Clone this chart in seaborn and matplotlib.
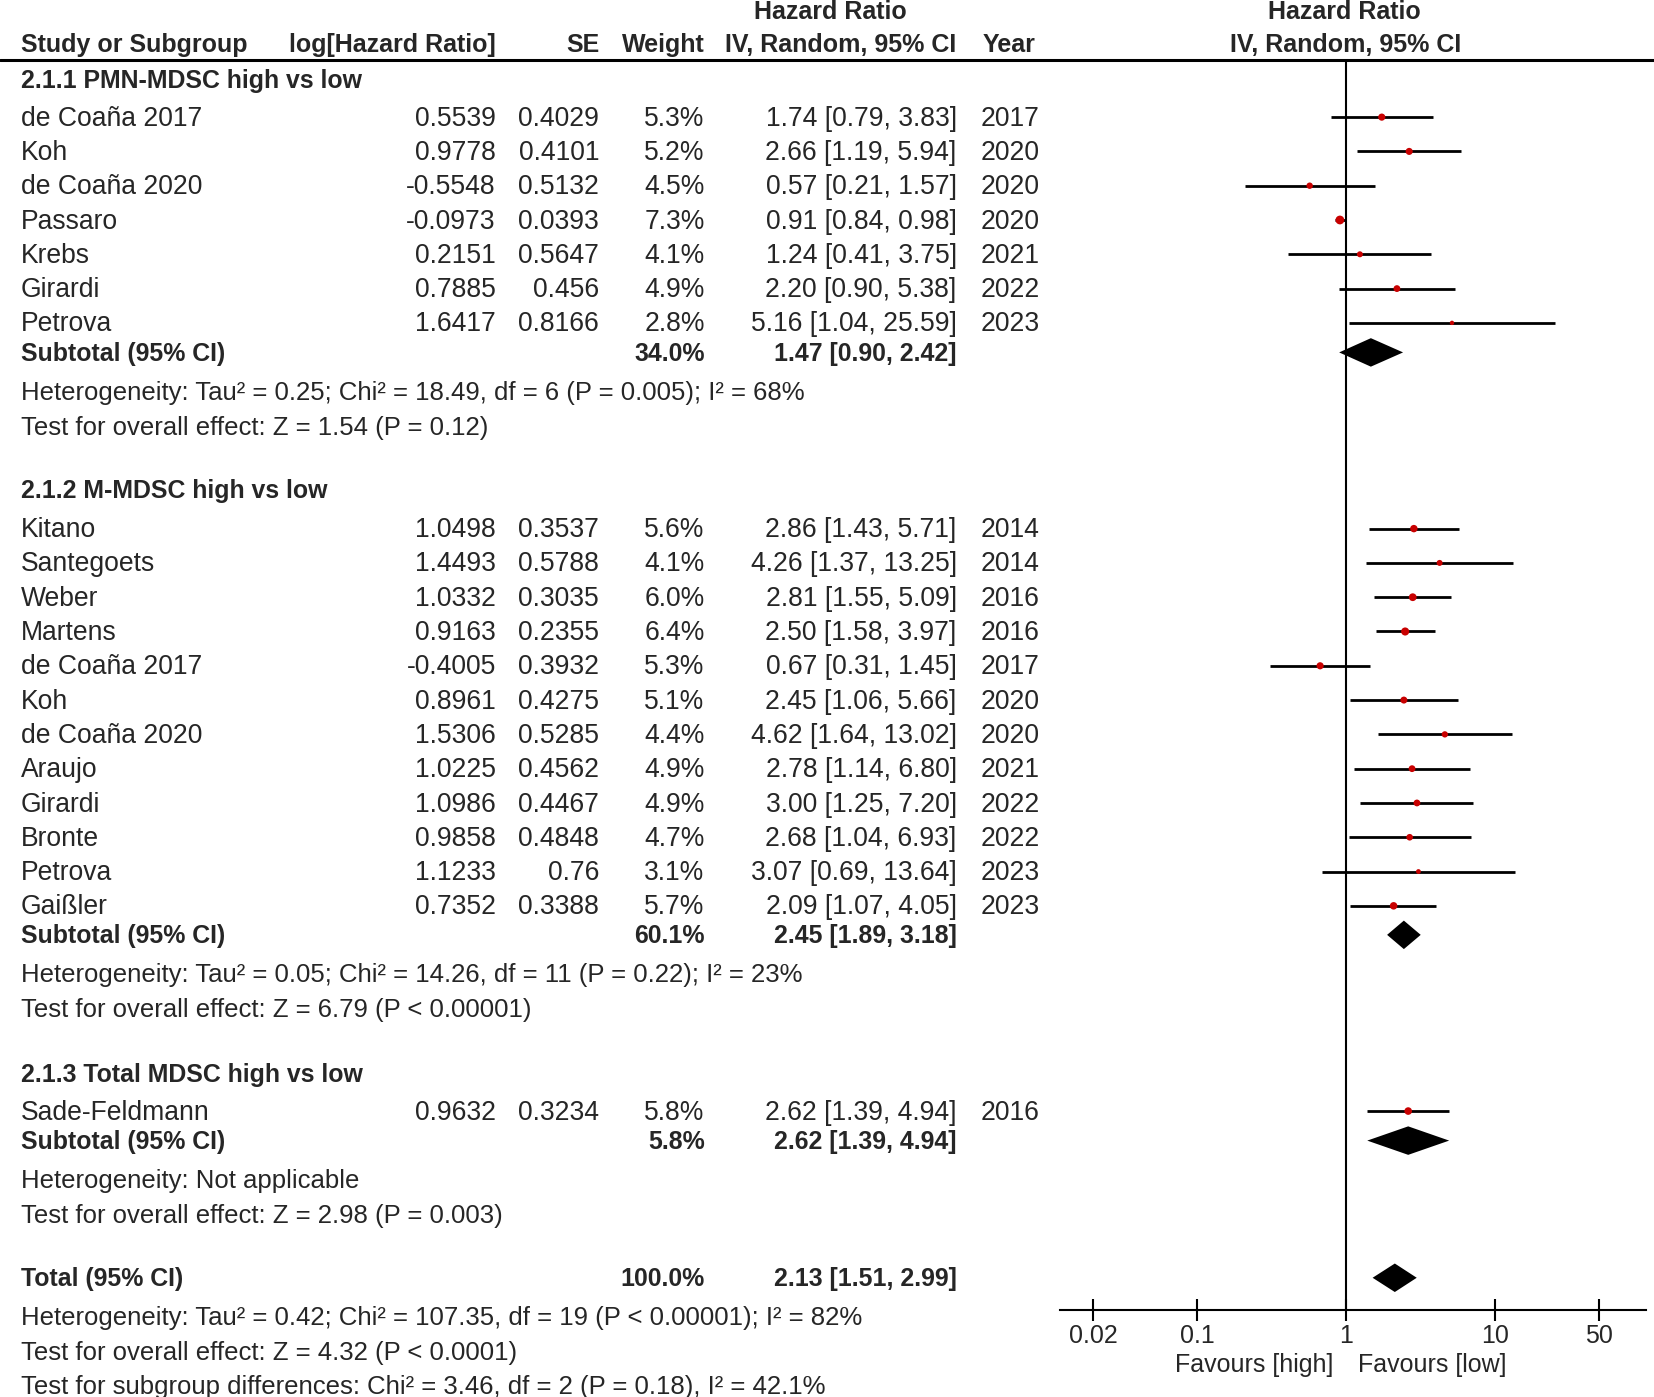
import numpy as np
import pandas as pd
import matplotlib
matplotlib.use("Agg")
import matplotlib.pyplot as plt
import seaborn as sns
from matplotlib import font_manager

# ---------------- data ----------------
g1_names = ["de Coaña 2017", "Koh", "de Coaña 2020", "Passaro", "Krebs", "Girardi", "Petrova"]
g1_loghr = [0.5539, 0.9778, -0.5548, -0.0973, 0.2151, 0.7885, 1.6417]
g1_se = [0.4029, 0.4101, 0.5132, 0.0393, 0.5647, 0.456, 0.8166]
g1_w = [5.3, 5.2, 4.5, 7.3, 4.1, 4.9, 2.8]
g1_hr = [1.74, 2.66, 0.57, 0.91, 1.24, 2.20, 5.16]
g1_lo = [0.79, 1.19, 0.21, 0.84, 0.41, 0.90, 1.04]
g1_hi = [3.83, 5.94, 1.57, 0.98, 3.75, 5.38, 25.59]
g1_year = [2017, 2020, 2020, 2020, 2021, 2022, 2023]

g2_names = ["Kitano", "Santegoets", "Weber", "Martens", "de Coaña 2017", "Koh",
            "de Coaña 2020", "Araujo", "Girardi", "Bronte", "Petrova", "Gaißler"]
g2_loghr = [1.0498, 1.4493, 1.0332, 0.9163, -0.4005, 0.8961, 1.5306, 1.0225, 1.0986, 0.9858, 1.1233, 0.7352]
g2_se = [0.3537, 0.5788, 0.3035, 0.2355, 0.3932, 0.4275, 0.5285, 0.4562, 0.4467, 0.4848, 0.76, 0.3388]
g2_w = [5.6, 4.1, 6.0, 6.4, 5.3, 5.1, 4.4, 4.9, 4.9, 4.7, 3.1, 5.7]
g2_hr = [2.86, 4.26, 2.81, 2.50, 0.67, 2.45, 4.62, 2.78, 3.00, 2.68, 3.07, 2.09]
g2_lo = [1.43, 1.37, 1.55, 1.58, 0.31, 1.06, 1.64, 1.14, 1.25, 1.04, 0.69, 1.07]
g2_hi = [5.71, 13.25, 5.09, 3.97, 1.45, 5.66, 13.02, 6.80, 7.20, 6.93, 13.64, 4.05]
g2_year = [2014, 2014, 2016, 2016, 2017, 2020, 2020, 2021, 2022, 2022, 2023, 2023]

g3_names = ["Sade-Feldmann"]
g3_loghr = [0.9632]
g3_se = [0.3234]
g3_w = [5.8]
g3_hr = [2.62]
g3_lo = [1.39]
g3_hi = [4.94]
g3_year = [2016]

group_titles = ["2.1.1 PMN-MDSC high vs low", "2.1.2 M-MDSC high vs low", "2.1.3 Total MDSC high vs low"]
sub_w = [34.0, 60.1, 5.8]
sub_hr = [1.47, 2.45, 2.62]
sub_lo = [0.90, 1.89, 1.39]
sub_hi = [2.42, 3.18, 4.94]
sub_het = ["Heterogeneity: Tau² = 0.25; Chi² = 18.49, df = 6 (P = 0.005); I² = 68%",
           "Heterogeneity: Tau² = 0.05; Chi² = 14.26, df = 11 (P = 0.22); I² = 23%",
           "Heterogeneity: Not applicable"]
sub_test = ["Test for overall effect: Z = 1.54 (P = 0.12)",
            "Test for overall effect: Z = 6.79 (P < 0.00001)",
            "Test for overall effect: Z = 2.98 (P = 0.003)"]

tot_w = 100.0
tot_hr = 2.13
tot_lo = 1.51
tot_hi = 2.99
tot_lines = ["Heterogeneity: Tau² = 0.42; Chi² = 107.35, df = 19 (P < 0.00001); I² = 82%",
             "Test for overall effect: Z = 4.32 (P < 0.0001)",
             "Test for subgroup differences: Chi² = 3.46, df = 2 (P = 0.18), I² = 42.1%"]

tick_vals = [0.02, 0.1, 1, 10, 50]
tick_labels = ["0.02", "0.1", "1", "10", "50"]

# ---------------- style ----------------
sns.set_style("white")
names_avail = {f.name for f in font_manager.fontManager.ttflist}
plt.rcParams["font.family"] = ["Liberation Sans", "DejaVu Sans"]
if "Liberation Sans Narrow" in names_avail:
    HFAM = ["Liberation Sans Narrow", "Liberation Sans"]
    HSIZE = 21
    TFAM = ["Liberation Sans Narrow", "Liberation Sans"]
    TSIZE = 21
else:
    HFAM = ["Liberation Sans", "DejaVu Sans"]
    HSIZE = 18
    TFAM = ["Liberation Sans", "DejaVu Sans"]
    TSIZE = 18

FS = 19.1    # study rows
FB = 17.9    # bold rows
FH = 18.5    # heterogeneity lines
DY = 1.5     # small vertical text offset

W0, H0 = 1568.0, 1324.0
fig = plt.figure(figsize=(16.54, 13.97), dpi=100)
fig.patch.set_facecolor("white")

ax_t = fig.add_axes([0, 0, 1, 1])
ax_t.set_xlim(0, W0)
ax_t.set_ylim(H0, 0)
ax_t.axis("off")
ax_t.patch.set_alpha(0)

# forest axes geometry (layout)
X_LEFT, X_RIGHT, X_ONE, PX_DEC = 1005.0, 1560.0, 1276.0, 141.0
Y_TOP, Y_AXIS = 57.0, 1242.0
ax_f = fig.add_axes([X_LEFT / W0, 1 - Y_AXIS / H0, (X_RIGHT - X_LEFT) / W0, (Y_AXIS - Y_TOP) / H0])
ax_f.patch.set_alpha(0)
ax_f.set_xscale("log")
ax_f.set_xlim(10 ** ((X_LEFT - X_ONE) / PX_DEC), 10 ** ((X_RIGHT - X_ONE) / PX_DEC))
ax_f.set_ylim(Y_AXIS, Y_TOP)

# ---------------- header ----------------
hkw = dict(family=HFAM, fontsize=HSIZE, fontweight="bold", va="center")
ax_t.text(787, 11, "Hazard Ratio", ha="center", **hkw)
ax_t.text(1274, 11, "Hazard Ratio", ha="center", **hkw)
yh = 43
ax_t.text(20, yh, "Study or Subgroup", ha="left", **hkw)
ax_t.text(470, yh, "log[Hazard Ratio]", ha="right", **hkw)
ax_t.text(568, yh, "SE", ha="right", **hkw)
ax_t.text(668, yh, "Weight", ha="right", **hkw)
ax_t.text(907, yh, "IV, Random, 95% CI", ha="right", **hkw)
ax_t.text(932, yh, "Year", ha="left", **hkw)
ax_t.text(1276, yh, "IV, Random, 95% CI", ha="center", **hkw)
ax_t.axhline(Y_TOP, color="black", lw=2.2, xmin=0, xmax=1)

# ---------------- rows ----------------
groups = [
    (g1_names, g1_loghr, g1_se, g1_w, g1_hr, g1_lo, g1_hi, g1_year),
    (g2_names, g2_loghr, g2_se, g2_w, g2_hr, g2_lo, g2_hi, g2_year),
    (g3_names, g3_loghr, g3_se, g3_w, g3_hr, g3_lo, g3_hi, g3_year),
]
heading_y = [75, 464, 1017]
first_row_y = [111, 501, 1053]
sub_y = [334, 886, 1081]
het_y = [371, 923, 1118]
test_y = [404, 956, 1151]
ROW = 32.5

recs = []
for gi, (nm, lhr, se, w, hr, lo, hi, yr) in enumerate(groups):
    ax_t.text(20, heading_y[gi] + DY, group_titles[gi], ha="left", va="center", fontsize=FB, fontweight="bold")
    for i in range(len(nm)):
        y = first_row_y[gi] + ROW * i
        yt = y + DY
        ax_t.text(20, yt, nm[i], ha="left", va="center", fontsize=FS)
        ax_t.text(470, yt, str(lhr[i]), ha="right", va="center", fontsize=FS)
        ax_t.text(568, yt, str(se[i]), ha="right", va="center", fontsize=FS)
        ax_t.text(668, yt, f"{w[i]:.1f}%", ha="right", va="center", fontsize=FS)
        ax_t.text(907, yt, f"{hr[i]:.2f} [{lo[i]:.2f}, {hi[i]:.2f}]", ha="right", va="center", fontsize=FS)
        ax_t.text(930, yt, str(yr[i]), ha="left", va="center", fontsize=FS)
        recs.append(dict(y=y, hr=hr[i], lo=lo[i], hi=hi[i], w=w[i]))
    ys = sub_y[gi] + DY
    ax_t.text(20, ys, "Subtotal (95% CI)", ha="left", va="center", fontsize=FB, fontweight="bold")
    ax_t.text(668, ys, f"{sub_w[gi]:.1f}%", ha="right", va="center", fontsize=FB, fontweight="bold")
    ax_t.text(907, ys, f"{sub_hr[gi]:.2f} [{sub_lo[gi]:.2f}, {sub_hi[gi]:.2f}]", ha="right", va="center",
              fontsize=FB, fontweight="bold")
    ax_t.text(20, het_y[gi] + DY, sub_het[gi], ha="left", va="center", fontsize=FH)
    ax_t.text(20, test_y[gi] + DY, sub_test[gi], ha="left", va="center", fontsize=FH)

# total
y_tot = 1211
ax_t.text(20, y_tot + DY, "Total (95% CI)", ha="left", va="center", fontsize=FB, fontweight="bold")
ax_t.text(668, y_tot + DY, f"{tot_w:.1f}%", ha="right", va="center", fontsize=FB, fontweight="bold")
ax_t.text(907, y_tot + DY, f"{tot_hr:.2f} [{tot_lo:.2f}, {tot_hi:.2f}]", ha="right", va="center",
          fontsize=FB, fontweight="bold")
for k, yy in enumerate([1248, 1281, 1313]):
    ax_t.text(20, yy + DY, tot_lines[k], ha="left", va="center", fontsize=FH)

# ---------------- forest ----------------
df = pd.DataFrame(recs)
ax_f.axvline(1, color="black", lw=1.5, zorder=1)
ax_f.hlines(df["y"], df["lo"], df["hi"], color="black", lw=2.0, zorder=2)
sns.scatterplot(data=df, x="hr", y="y", size="w", sizes=(10, 40), size_norm=(2.8, 7.3),
                color="#c80000", edgecolor="none", marker="o", legend=False, ax=ax_f, zorder=3)

DH = 13.5
dia_y = sub_y + [y_tot]
dia_hr = sub_hr + [tot_hr]
dia_lo = sub_lo + [tot_lo]
dia_hi = sub_hi + [tot_hi]
for yd, c, l, h in zip(dia_y, dia_hr, dia_lo, dia_hi):
    ax_f.fill([l, c, h, c], [yd, yd - DH, yd, yd + DH], color="black", lw=0, zorder=3)

ax_f.set_xlabel("")
ax_f.set_ylabel("")
for s in ["top", "left", "right"]:
    ax_f.spines[s].set_visible(False)
ax_f.spines["bottom"].set_linewidth(1.5)
ax_f.spines["bottom"].set_color("black")
ax_f.set_yticks([])
ax_f.set_xticks(tick_vals)
ax_f.set_xticklabels(tick_labels)
ax_f.xaxis.set_minor_locator(matplotlib.ticker.NullLocator())
ax_f.tick_params(axis="x", which="major", direction="inout", length=16, width=1.5,
                 color="black", pad=2, labelsize=TSIZE, bottom=True)
for lab in ax_f.get_xticklabels():
    lab.set_family(TFAM)

ax_t.text(1264, 1294, "Favours [high]", ha="right", va="center", fontsize=18)
ax_t.text(1287, 1294, "Favours [low]", ha="left", va="center", fontsize=18)

fig.savefig("out.png", dpi=100, facecolor="white")
